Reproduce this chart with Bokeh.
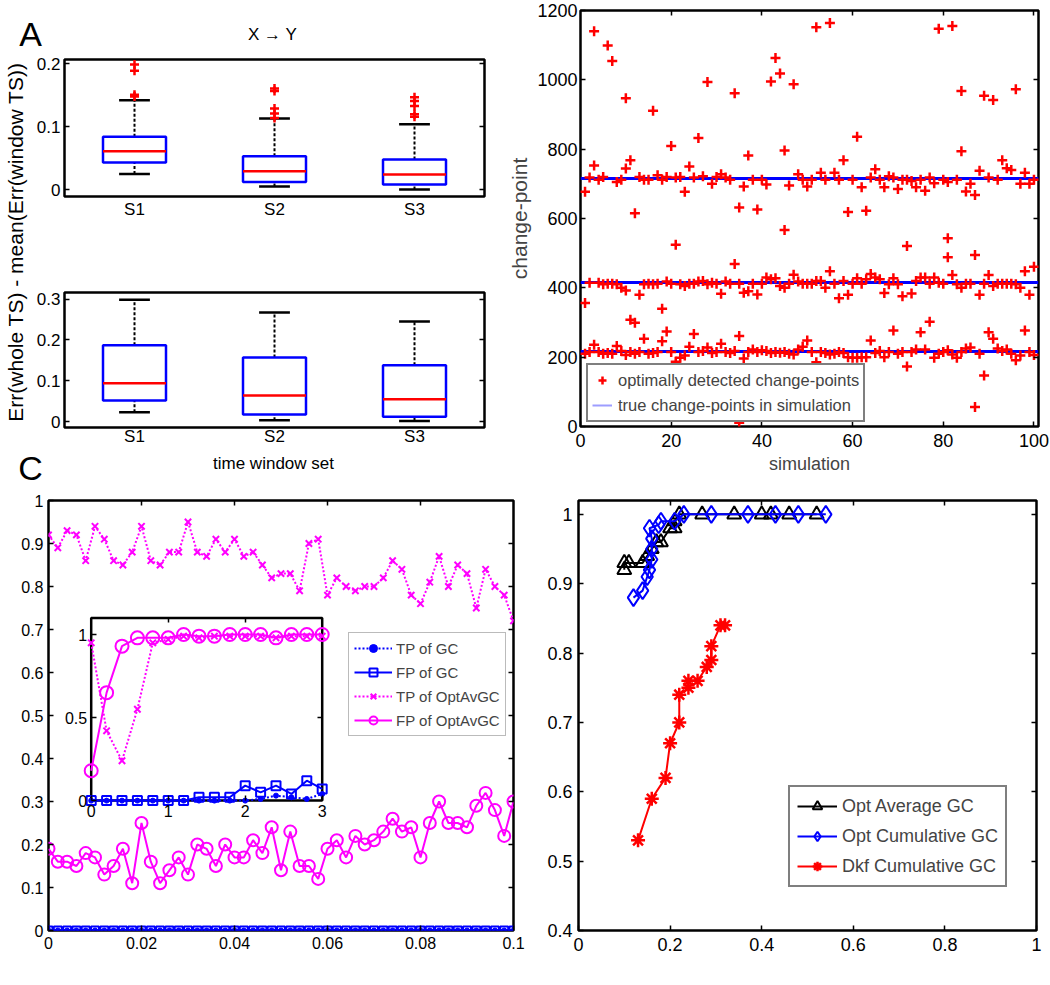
from math import pi
from bokeh.plotting import figure
from bokeh.layouts import row, column
from bokeh.models import (Range1d, FixedTicker, NumeralTickFormatter, LinearAxis,
                          Label, Legend, LegendItem)
from bokeh.embed import file_html
from bokeh.resources import INLINE

FONT = "Liberation Sans"

# ---------------- Panel A data ----------------
sets = [1, 2, 3]
set_labels = ["S1", "S2", "S3"]
xy_low = [0.025, 0.005, 0.000]
xy_q1 = [0.043, 0.012, 0.008]
xy_med = [0.061, 0.029, 0.024]
xy_q3 = [0.084, 0.053, 0.048]
xy_high = [0.142, 0.113, 0.104]
xy_out_set = [1, 1, 1, 1, 2, 2, 2, 2, 2, 3, 3, 3, 3, 3]
xy_out_val = [0.148, 0.151, 0.189, 0.199, 0.114, 0.121, 0.129, 0.157, 0.161,
              0.116, 0.120, 0.133, 0.141, 0.147]
yx_low = [0.023, 0.004, 0.002]
yx_q1 = [0.052, 0.018, 0.012]
yx_med = [0.094, 0.064, 0.055]
yx_q3 = [0.187, 0.157, 0.138]
yx_high = [0.298, 0.267, 0.245]

# ---------------- Panel B data ----------------
sim = list(range(1, 101))
true_cp = [215, 415, 715]
cp_low = [210, 215, 236, 215, 210, 212, 210, 232, 218, 206, 215, 210, 215, 253, 210, 212, 215, 246, 274, 215,
          187, 198, 205, 230, 267, 215, 218, 228, 212, 215, 239, 215, 212, 218, 261, 196, 215, 222, 215, 220,
          218, 212, 215, 213, 215, 210, 208, 222, 230, 248, 215, 185, 215, 212, 208, 210, 215, 212, 200, 198,
          198, 200, 200, 248, 212, 218, 200, 215, 277, 210, 215, 173, 215, 222, 272, 222, 302, 198, 210, 215,
          220, 208, 198, 215, 225, 228, 56, 210, 147, 272, 253, 225, 218, 222, 210, 191, 205, 277, 215, 206]
cp_mid = [356, 415, 753, 415, 410, 412, 412, 410, 400, 392, 308, 299, 380, 410, 412, 410, 412, 340, 418, 412,
          524, 410, 405, 412, 412, 418, 420, 410, 415, 412, 383, 418, 412, 469, 412, 386, 390, 412, 381, 412,
          430, 425, 428, 405, 400, 412, 438, 418, 412, 412, 412, 420, 420, 400, 448, 412, 370, 420, 380, 412,
          428, 412, 425, 440, 430, 425, 385, 410, 428, 410, 376, 521, 384, 420, 430, 430, 412, 430, 415, 412,
          543, 437, 410, 400, 412, 412, 495, 380, 412, 437, 405, 412, 412, 412, 412, 410, 400, 448, 380, 461]
cp_high = [677, 718, 1140, 712, 720, 1099, 1054, 705, 712, 947, 768, 615, 720, 712, 712, 911, 725, 712, 720, 809,
           718, 720, 677, 750, 718, 832, 722, 994, 700, 720, 728, 718, 712, 961, 632, 692, 782, 712, 626, 712,
           698, 995, 1063, 1018, 796, 695, 987, 728, 712, 692, 712, 1152, 732, 712, 1164, 732, 712, 768, 619, 712,
           836, 690, 622, 718, 742, 712, 690, 722, 718, 685, 712, 712, 708, 690, 712, 680, 718, 702, 1147, 712,
           705, 1155, 712, 968, 678, 700, 668, 738, 954, 718, 942, 712, 768, 745, 740, 973, 700, 732, 700, 712]
extra_sim = [10, 45, 81, 84, 35]
extra_cp = [744, 567, 488, 794, 11]

# ---------------- Panel C data ----------------
delay = [0.000, 0.002, 0.004, 0.006, 0.008, 0.010, 0.012, 0.014, 0.016, 0.018,
         0.020, 0.022, 0.024, 0.026, 0.028, 0.030, 0.032, 0.034, 0.036, 0.038,
         0.040, 0.042, 0.044, 0.046, 0.048, 0.050, 0.052, 0.054, 0.056, 0.058,
         0.060, 0.062, 0.064, 0.066, 0.068, 0.070, 0.072, 0.074, 0.076, 0.078,
         0.080, 0.082, 0.084, 0.086, 0.088, 0.090, 0.092, 0.094, 0.096, 0.098, 0.100]
tp_gc = [0.0] * 51
fp_gc = [0.0] * 51
tp_opt = [0.92, 0.89, 0.93, 0.92, 0.86, 0.94, 0.91, 0.86, 0.85, 0.88,
          0.94, 0.86, 0.85, 0.88, 0.88, 0.95, 0.88, 0.87, 0.91, 0.88,
          0.91, 0.87, 0.88, 0.85, 0.82, 0.83, 0.83, 0.79, 0.90, 0.91,
          0.78, 0.82, 0.80, 0.79, 0.80, 0.80, 0.82, 0.86, 0.84, 0.78,
          0.76, 0.81, 0.87, 0.80, 0.85, 0.83, 0.75, 0.84, 0.80, 0.78, 0.72]
fp_opt = [0.19, 0.16, 0.16, 0.15, 0.18, 0.17, 0.13, 0.15, 0.19, 0.11,
          0.25, 0.16, 0.11, 0.14, 0.17, 0.13, 0.20, 0.19, 0.15, 0.20,
          0.17, 0.17, 0.21, 0.18, 0.24, 0.14, 0.23, 0.15, 0.15, 0.12,
          0.19, 0.21, 0.17, 0.22, 0.20, 0.21, 0.23, 0.26, 0.23, 0.24,
          0.17, 0.25, 0.30, 0.25, 0.25, 0.24, 0.29, 0.32, 0.28, 0.22, 0.30]
inset_delay = [0.0, 0.2, 0.4, 0.6, 0.8, 1.0, 1.2, 1.4, 1.6, 1.8, 2.0, 2.2, 2.4, 2.6, 2.8, 3.0]
in_tp_gc = [0, 0, 0, 0, 0, 0, 0, 0, 0, 0, 0.0, 0.01, 0.03, 0.02, 0.01, 0.04]
in_fp_gc = [0, 0, 0, 0, 0, 0, 0, 0.02, 0.02, 0.02, 0.09, 0.05, 0.09, 0.04, 0.12, 0.07]
in_tp_opt = [0.95, 0.42, 0.24, 0.55, 0.95, 0.97, 0.99, 0.98, 0.99, 0.99, 0.99, 0.99, 0.98, 0.99, 0.99, 0.99]
in_fp_opt = [0.18, 0.65, 0.93, 0.98, 0.98, 0.98, 1.0, 0.99, 0.99, 1.0, 1.0, 1.0, 0.98, 1.0, 1.0, 1.0]
inset_xlim = (0.0, 3.0)
inset_ylim = (0.0, 1.1)

# ---------------- Panel D data ----------------
opt_avg_fp = [0.10, 0.10, 0.11, 0.14, 0.15, 0.16, 0.17, 0.18, 0.20, 0.21, 0.21, 0.22, 0.27, 0.34, 0.40, 0.42, 0.46, 0.52]
opt_avg_tp = [0.92, 0.93, 0.93, 0.93, 0.94, 0.95, 0.96, 0.96, 0.98, 0.98, 0.99, 1.0, 1.0, 1.0, 1.0, 1.0, 1.0, 1.0]
opt_cum_fp = [0.12, 0.14, 0.15, 0.155, 0.16, 0.16, 0.16, 0.155, 0.175, 0.18, 0.21, 0.23, 0.29, 0.37, 0.43, 0.48, 0.54]
opt_cum_tp = [0.88, 0.89, 0.91, 0.92, 0.935, 0.95, 0.965, 0.98, 0.985, 0.99, 0.99, 1.0, 1.0, 1.0, 1.0, 1.0, 1.0]
dkf_fp = [0.13, 0.16, 0.19, 0.20, 0.22, 0.22, 0.24, 0.24, 0.26, 0.28, 0.29, 0.29, 0.31, 0.32]
dkf_tp = [0.53, 0.59, 0.62, 0.67, 0.70, 0.74, 0.75, 0.76, 0.76, 0.78, 0.79, 0.81, 0.84, 0.84]


# ---------------- helpers ----------------
def blank(w, h):
    p = figure(width=w, height=h, x_range=Range1d(0, w), y_range=Range1d(0, h),
               output_backend="svg", toolbar_location=None, min_border=0,
               x_axis_type=None, y_axis_type=None)
    p.title.visible = False
    p.outline_line_color = None
    return p


def framed(w, h, l, r, t, b, xr, yr):
    p = figure(width=w, height=h, x_range=Range1d(*xr), y_range=Range1d(*yr),
               output_backend="svg", toolbar_location=None,
               min_border_left=l, min_border_right=r, min_border_top=t, min_border_bottom=b,
               x_axis_type=None, y_axis_type=None)
    p.title.visible = False
    p.outline_line_color = "black"
    p.outline_line_width = 2.5
    return p


def add_axis(p, side, ticks, size, fmt=None, overrides=None, tick_in=5, standoff=3,
             labels=True, **kw):
    ax = LinearAxis(ticker=FixedTicker(ticks=ticks), **kw)
    ax.axis_line_color = None
    ax.major_tick_in = tick_in
    ax.major_tick_out = 0
    ax.major_tick_line_width = 1.5
    ax.minor_tick_line_color = None
    ax.major_label_text_font = FONT
    if labels:
        ax.major_label_standoff = standoff
        ax.major_label_text_font_size = f"{size}px"
        ax.major_label_text_color = "black"
    else:
        ax.major_label_standoff = 0
        ax.major_label_text_font_size = "0px"
        ax.major_label_text_color = None
        ax.major_label_text_alpha = 0
    if fmt:
        ax.formatter = NumeralTickFormatter(format=fmt)
    if overrides:
        ax.major_label_overrides = overrides
    p.add_layout(ax, side)
    return ax


def label(p, x, y, text, size, angle=0.0, screen=True):
    units = "screen" if screen else "data"
    p.add_layout(Label(x=x, y=y, x_units=units, y_units=units, text=text, angle=angle,
                       text_font=FONT, text_font_size=f"{size}px", text_color="black",
                       text_align="center", text_baseline="middle"))


def style_legend(lg, size, glyph_w, row_h, spacing, padding, border_color, border_w, standoff):
    lg.label_text_font = FONT
    lg.label_text_font_size = f"{size}px"
    lg.glyph_width = glyph_w
    lg.glyph_height = row_h
    lg.label_height = row_h
    lg.spacing = spacing
    lg.padding = padding
    lg.margin = 0
    lg.label_standoff = standoff
    lg.border_line_color = border_color
    lg.border_line_width = border_w
    lg.background_fill_alpha = 1.0


BOX_HALF = 0.225
CAP_HALF = 0.11


def draw_boxes(p, low, q1, med, q3, high):
    left = [s - BOX_HALF for s in sets]
    right = [s + BOX_HALF for s in sets]
    cl = [s - CAP_HALF for s in sets]
    cr = [s + CAP_HALF for s in sets]
    p.segment(x0=sets, y0=q3, x1=sets, y1=high, line_color="black", line_width=2, line_dash="3 2")
    p.segment(x0=sets, y0=low, x1=sets, y1=q1, line_color="black", line_width=2, line_dash="3 2")
    p.segment(x0=cl, y0=high, x1=cr, y1=high, line_color="black", line_width=2.5)
    p.segment(x0=cl, y0=low, x1=cr, y1=low, line_color="black", line_width=2.5)
    p.quad(left=left, right=right, bottom=q1, top=q3, fill_color=None,
           line_color="blue", line_width=2.5)
    p.segment(x0=left, y0=med, x1=right, y1=med, line_color="red", line_width=2.5)


set_over = {s: t for s, t in zip(sets, set_labels)}

# ---------------- Panel A ----------------
a_head = blank(488, 55)
label(a_head, 30, 22, "A", 34, screen=False)
label(a_head, 272, 21, "X \u2192 Y", 17, screen=False)

strip = blank(33, 393)
label(strip, 15, 206.5, "Err(whole TS) - mean(Err(window TS))", 21, angle=pi / 2, screen=False)

a_top = framed(455, 177, 27, 4, 4, 36, (0.5, 3.5), (-0.011, 0.207))
add_axis(a_top, "below", sets, 17, overrides=set_over, tick_in=0, standoff=3)
add_axis(a_top, "left", [0, 0.1, 0.2], 17, fmt="0.[0]", standoff=4)
add_axis(a_top, "right", [0, 0.1, 0.2], 17, labels=False)
draw_boxes(a_top, xy_low, xy_q1, xy_med, xy_q3, xy_high)
a_top.scatter(x=xy_out_set, y=xy_out_val, marker="cross", size=9, line_color="red", line_width=2.5)

a_bot = framed(455, 216, 27, 4, 60, 18, (0.5, 3.5), (-0.014, 0.316))
add_axis(a_bot, "below", sets, 17, overrides=set_over, tick_in=0, standoff=-1)
add_axis(a_bot, "left", [0, 0.1, 0.2, 0.3], 17, fmt="0.[0]", standoff=4)
add_axis(a_bot, "right", [0, 0.1, 0.2, 0.3], 17, labels=False)
draw_boxes(a_bot, yx_low, yx_q1, yx_med, yx_q3, yx_high)
label(a_bot, 212, 162, "Y \u2192 X", 17)

a_foot = blank(488, 42)
label(a_foot, 273, 27.5, "time window set", 17, screen=False)
label(a_foot, 30, 23, "C", 34, screen=False)

# ---------------- Panel B ----------------
b = framed(562, 490, 92, 12, 10, 64, (0, 101), (0, 1200))
bx = add_axis(b, "below", [0, 20, 40, 60, 80, 100], 18, standoff=7)
by = add_axis(b, "left", [0, 200, 400, 600, 800, 1000, 1200], 18, standoff=3)
add_axis(b, "above", [20, 40, 60, 80, 100], 18, labels=False)
add_axis(b, "right", [200, 400, 600, 800, 1000], 18, labels=False)
for ax, txt, fs, so in ((bx, "simulation", 18, 4), (by, "change-point", 21, 3)):
    ax.axis_label = txt
    ax.axis_label_text_font = FONT
    ax.axis_label_text_font_size = f"{fs}px"
    ax.axis_label_text_font_style = "normal"
    ax.axis_label_standoff = so
b.hspan(y=true_cp, line_color="blue", line_width=3)
pts = b.scatter(x=sim + sim + sim + extra_sim, y=cp_low + cp_mid + cp_high + extra_cp,
                marker="cross", size=10, line_color="red", line_width=2.5)
true_leg = b.line(x=sim[:1], y=true_cp[:1], line_color="#9d9dff", line_width=2)
lgb = Legend(items=[LegendItem(label="optimally detected change-points", renderers=[pts]),
                    LegendItem(label="true change-points in simulation", renderers=[true_leg])],
             location=(6, 4))
style_legend(lgb, 16.5, 20, 22, 3, 4, "black", 2, 6)
b.add_layout(lgb)
label(b, -79, 394, "B", 34)
label(b, -56, -39, "D", 34)

# ---------------- Panel C ----------------
c = framed(525, 495, 48, 12, 10, 48, (0, 0.1), (0, 1))
add_axis(c, "below", [0, 0.02, 0.04, 0.06, 0.08, 0.1], 16, fmt="0.[00]", standoff=6)
add_axis(c, "left", [0, 0.1, 0.2, 0.3, 0.4, 0.5, 0.6, 0.7, 0.8, 0.9, 1.0], 16, fmt="0.[0]", standoff=5)
add_axis(c, "above", [0.02, 0.04, 0.06, 0.08], 16, labels=False)
add_axis(c, "right", [0.1, 0.2, 0.3, 0.4, 0.5, 0.6, 0.7, 0.8, 0.9], 16, labels=False)
label(c, -37, 219, "proportion", 18, angle=pi / 2)
label(c, 225, -38, "hrf delay (in second) of region X to region Y", 15)

l_tpgc = c.line(delay, tp_gc, line_color="blue", line_width=2, line_dash="2 2")
s_tpgc = c.scatter(delay, tp_gc, marker="circle", size=5, color="blue")
l_fpgc = c.line(delay, fp_gc, line_color="blue", line_width=2)
s_fpgc = c.scatter(delay, fp_gc, marker="square", size=8, fill_color=None, line_color="blue", line_width=2)
l_tpo = c.line(delay, tp_opt, line_color="magenta", line_width=2, line_dash="2 2")
s_tpo = c.scatter(delay, tp_opt, marker="x", size=9, line_color="magenta", line_width=2)
l_fpo = c.line(delay, fp_opt, line_color="magenta", line_width=2)
s_fpo = c.scatter(delay, fp_opt, marker="circle", size=12, fill_color=None, line_color="magenta", line_width=2)

# inset, mapped into the frame through extra ranges
C_FW, C_FH = 465, 437
IN_L, IN_R, IN_B, IN_T = 42.7, 273.7, 132.0, 317.7
sx = (IN_R - IN_L) / (inset_xlim[1] - inset_xlim[0])
sy = (IN_T - IN_B) / (inset_ylim[1] - inset_ylim[0])
c.extra_x_ranges = {"ix": Range1d(inset_xlim[0] - IN_L / sx, inset_xlim[1] + (C_FW - IN_R) / sx)}
c.extra_y_ranges = {"iy": Range1d(inset_ylim[0] - IN_B / sy, inset_ylim[1] + (C_FH - IN_T) / sy)}
c.quad(left=inset_xlim[0], right=inset_xlim[1], bottom=inset_ylim[0], top=inset_ylim[1],
       x_range_name="ix", y_range_name="iy", fill_color="white", line_color="black", line_width=2.5)
kw = dict(x_range_name="ix", y_range_name="iy")
c.line(inset_delay, in_tp_gc, line_color="blue", line_width=2, line_dash="2 2", **kw)
c.scatter(inset_delay, in_tp_gc, marker="circle", size=5, color="blue", **kw)
c.line(inset_delay, in_fp_gc, line_color="blue", line_width=2, **kw)
c.scatter(inset_delay, in_fp_gc, marker="square", size=9, fill_color=None, line_color="blue", line_width=2, **kw)
c.line(inset_delay, in_tp_opt, line_color="magenta", line_width=2, line_dash="2 2", **kw)
c.scatter(inset_delay, in_tp_opt, marker="x", size=9, line_color="magenta", line_width=2, **kw)
c.line(inset_delay, in_fp_opt, line_color="magenta", line_width=2, **kw)
c.scatter(inset_delay, in_fp_opt, marker="circle", size=13, fill_color=None, line_color="magenta", line_width=2, **kw)
add_axis(c, "below", [0, 1, 2, 3], 16, standoff=4, fixed_location=inset_ylim[0], **kw)
add_axis(c, "left", [0, 0.5, 1], 16, fmt="0.[0]", standoff=4, fixed_location=inset_xlim[0], **kw)
add_axis(c, "above", [1, 2], 16, labels=False, fixed_location=inset_ylim[1], **kw)
add_axis(c, "right", [0.5], 16, labels=False, fixed_location=inset_xlim[1], **kw)

lgc = Legend(items=[LegendItem(label="TP of GC", renderers=[l_tpgc, s_tpgc]),
                    LegendItem(label="FP of GC", renderers=[l_fpgc, s_fpgc]),
                    LegendItem(label="TP of OptAvGC", renderers=[l_tpo, s_tpo]),
                    LegendItem(label="FP of OptAvGC", renderers=[l_fpo, s_fpo])],
             location=(300, 194))
style_legend(lgc, 15, 38, 20, 4, 5, "#777777", 1, 4)
c.add_layout(lgc)

# ---------------- Panel D ----------------
d = framed(525, 495, 53, 14, 8, 55, (0, 1), (0.4, 1.02))
add_axis(d, "below", [0, 0.2, 0.4, 0.6, 0.8, 1.0], 18, fmt="0.[0]", standoff=7)
add_axis(d, "left", [0.4, 0.5, 0.6, 0.7, 0.8, 0.9, 1.0], 18, fmt="0.[0]", standoff=6)
add_axis(d, "above", [0.2, 0.4, 0.6, 0.8], 18, labels=False)
add_axis(d, "right", [0.5, 0.6, 0.7, 0.8, 0.9, 1.0], 18, labels=False)
label(d, -41, 216, "TP Rate", 20, angle=pi / 2)
label(d, 229, -46, "FP Rate", 18)
la = d.line(opt_avg_fp, opt_avg_tp, line_color="black", line_width=2)
sa = d.scatter(opt_avg_fp, opt_avg_tp, marker="triangle", size=14, fill_color=None, line_color="black", line_width=2)
lc = d.line(opt_cum_fp, opt_cum_tp, line_color="blue", line_width=2)
sc = d.scatter(opt_cum_fp, opt_cum_tp, marker="diamond", size=17, fill_color=None, line_color="blue", line_width=2)
lk = d.line(dkf_fp, dkf_tp, line_color="red", line_width=2)
sk = d.scatter(dkf_fp, dkf_tp, marker="asterisk", size=14, line_color="red", line_width=2.5)
lgd = Legend(items=[LegendItem(label="Opt Average GC", renderers=[la, sa]),
                    LegendItem(label="Opt Cumulative GC", renderers=[lc, sc]),
                    LegendItem(label="Dkf Cumulative GC", renderers=[lk, sk])],
             location=(210, 43))
style_legend(lgd, 18, 40, 24, 6, 7, "black", 2, 5)
d.add_layout(lgd)

# ---------------- layout ----------------
left_top = column(a_head, row(strip, column(a_top, a_bot)), a_foot)
page = column(row(left_top, b), row(c, d))

open("out.html", "w").write(file_html(page, INLINE))
